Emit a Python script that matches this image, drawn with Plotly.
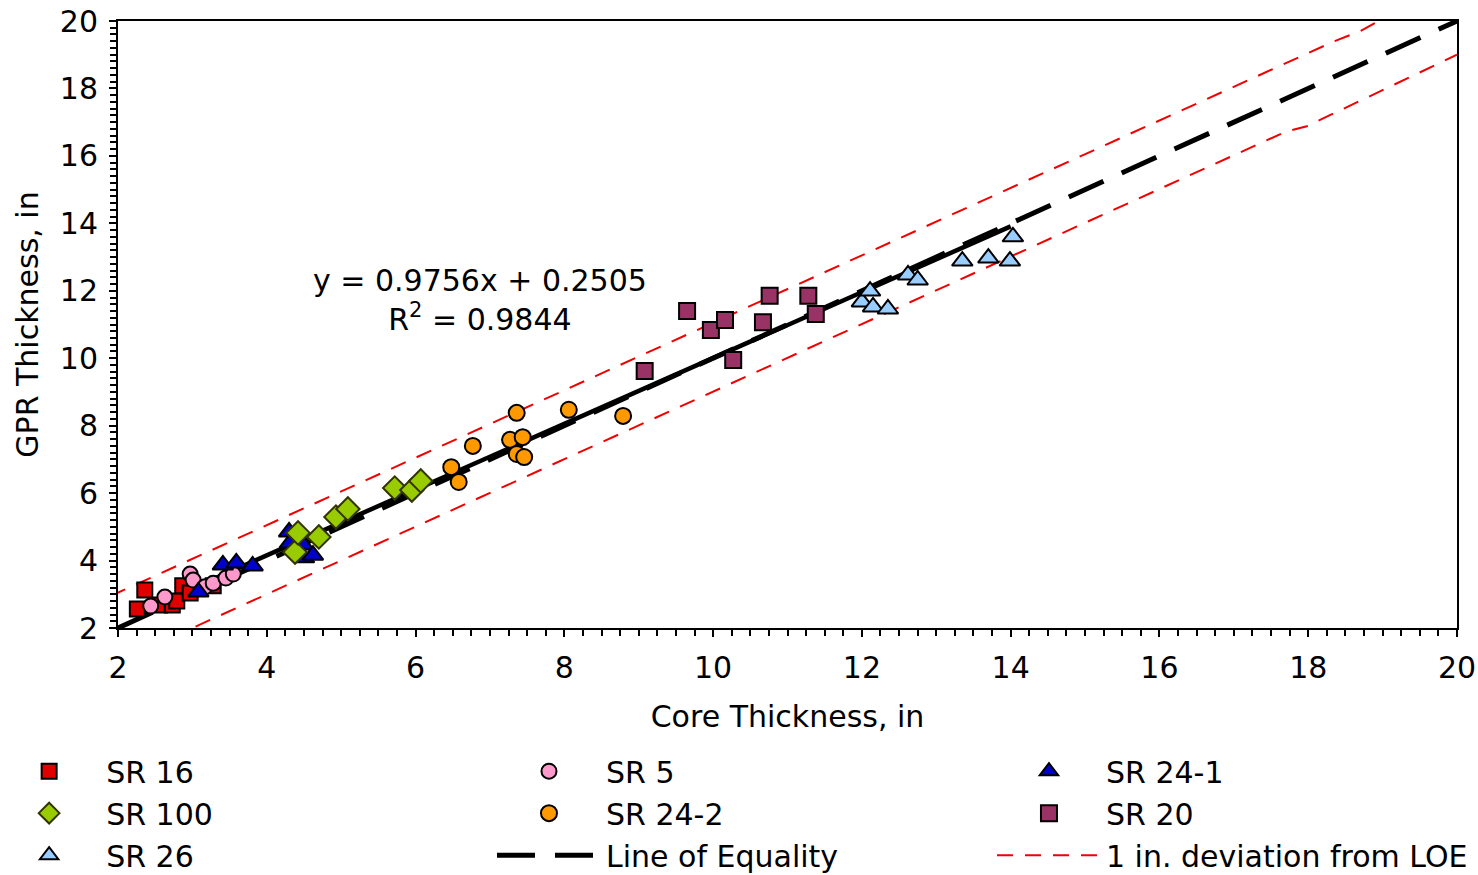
import plotly.graph_objects as go

# ---- data ----
sr16_x = [2.26, 2.36, 2.56, 2.73, 2.79, 2.87, 2.97, 3.28]
sr16_y = [2.56, 3.13, 2.68, 2.68, 2.80, 3.25, 3.04, 3.25]

sr5_x = [2.44, 2.63, 2.97, 3.01, 3.17, 3.28, 3.45, 3.55]
sr5_y = [2.65, 2.92, 3.60, 3.42, 3.22, 3.33, 3.48, 3.60]

sr241_x = [3.08, 3.41, 3.59, 3.81, 4.30, 4.31, 4.49, 4.50, 4.62]
sr241_y = [3.07, 3.87, 3.93, 3.84, 4.85, 4.52, 4.46, 4.08, 4.16]

sr100_x = [4.38, 4.42, 4.70, 4.93, 5.09, 5.72, 5.95, 6.07]
sr100_y = [4.25, 4.82, 4.70, 5.29, 5.53, 6.15, 6.09, 6.36]

sr242_x = [6.48, 6.58, 6.77, 7.27, 7.44, 7.36, 7.36, 7.46, 8.06, 8.79]
sr242_y = [6.77, 6.33, 7.40, 7.58, 7.66, 8.38, 7.16, 7.07, 8.47, 8.29]

sr20_x = [9.08, 9.65, 9.97, 10.16, 10.27, 10.67, 10.76, 11.28, 11.38]
sr20_y = [9.62, 11.40, 10.84, 11.13, 9.95, 11.07, 11.85, 11.85, 11.31]

sr26_x = [12.00, 12.11, 12.15, 12.35, 12.62, 12.75, 13.35, 13.70, 13.99, 14.03]
sr26_y = [11.67, 11.99, 11.52, 11.46, 12.47, 12.32, 12.88, 12.97, 12.88, 13.60]

loe_x = [2, 20]
loe_y = [2, 20]

dev_up_x = [1.9, 18.35, 18.7, 19.2]
dev_up_y = [2.95, 19.40, 19.70, 20.3]
dev_lo_x = [2.7, 17.7, 17.98, 20.0]
dev_lo_y = [1.7, 16.72, 16.88, 19.0]

trend_slope = 0.9756
trend_icpt = 0.2505
trend_x = [2.2, 14.0]
trend_y = [trend_slope * v + trend_icpt for v in trend_x]

x_ticks = [2, 4, 6, 8, 10, 12, 14, 16, 18, 20]
y_ticks = [2, 4, 6, 8, 10, 12, 14, 16, 18, 20]

FONT = "DejaVu Sans"
FS = 30

fig = go.Figure()

# lines first (drawn underneath markers)
fig.add_trace(go.Scatter(
    x=loe_x, y=loe_y, mode="lines", name="Line of Equality",
    line=dict(color="#000000", width=5, dash="38px,20px"),
    legend="legend2", legendrank=3,
))
fig.add_trace(go.Scatter(
    x=dev_up_x, y=dev_up_y, mode="lines", name="1 in. deviation from LOE",
    line=dict(color="#F00000", width=2, dash="16px,12px"),
    legendgroup="dev", cliponaxis=False, legend="legend3", legendrank=3,
))
fig.add_trace(go.Scatter(
    x=dev_lo_x, y=dev_lo_y, mode="lines", name="1 in. deviation from LOE",
    line=dict(color="#F00000", width=2, dash="16px,12px"),
    legendgroup="dev", showlegend=False, cliponaxis=False, legend="legend3",
))
fig.add_trace(go.Scatter(
    x=trend_x, y=trend_y, mode="lines", name="Linear trend",
    line=dict(color="#000000", width=4.5), showlegend=False,
))

def add_pts(name, xs, ys, symbol, fill, line_col, size, leg, rank):
    fig.add_trace(go.Scatter(
        x=xs, y=ys, mode="markers", name=name,
        marker=dict(symbol=symbol, color=fill, size=size,
                    line=dict(color=line_col, width=2)),
        cliponaxis=False, legend=leg, legendrank=rank,
    ))

add_pts("SR 16", sr16_x, sr16_y, "square", "#E00000", "#000000", 15, "legend", 1)
add_pts("SR 5", sr5_x, sr5_y, "circle", "#FF99CC", "#000000", 15, "legend2", 1)
add_pts("SR 24-1", sr241_x, sr241_y, "triangle-up", "#0000CC", "#000000", 18, "legend3", 1)
add_pts("SR 100", sr100_x, sr100_y, "diamond", "#99CC00", "#333300", 18, "legend", 2)
add_pts("SR 24-2", sr242_x, sr242_y, "circle", "#FF9900", "#000000", 16, "legend2", 2)
add_pts("SR 20", sr20_x, sr20_y, "square", "#993366", "#000000", 16, "legend3", 2)
add_pts("SR 26", sr26_x, sr26_y, "triangle-up", "#99CCFF", "#000000", 18, "legend", 3)

fig.add_annotation(
    x=6.87, y=11.73, xref="x", yref="y",
    text="y = 0.9756x + 0.2505<br>R<sup>2</sup> = 0.9844",
    showarrow=False, align="center",
    font=dict(family=FONT, size=FS, color="#000000"),
)

axis_common = dict(
    showgrid=False, zeroline=False,
    showline=True, linecolor="#000000", linewidth=2, mirror=True,
    ticks="outside", ticklen=7, tickwidth=2, tickcolor="#000000",
    tickfont=dict(family=FONT, size=FS, color="#000000"),
    ticklabelstandoff=5,
)

fig.update_xaxes(
    range=[2, 20], tickvals=x_ticks, ticktext=[str(v) for v in x_ticks],
    title=dict(text="Core Thickness, in", font=dict(family=FONT, size=FS, color="#000000"), standoff=22),
    minor=dict(dtick=0.25, ticks="outside", ticklen=6, tickwidth=1.5, tickcolor="#000000"),
    **axis_common,
)
fig.update_yaxes(
    range=[2, 20], tickvals=y_ticks, ticktext=[str(v) for v in y_ticks],
    title=dict(text="GPR Thickness, in", font=dict(family=FONT, size=FS, color="#000000"), standoff=12),
    minor=dict(dtick=0.2, ticks="outside", ticklen=6, tickwidth=1.5, tickcolor="#000000"),
    **axis_common,
)

leg_common = dict(
    orientation="v", y=-0.193, xanchor="left", yanchor="top",
    itemwidth=104, traceorder="normal",
    font=dict(family=FONT, size=FS, color="#000000"),
    bgcolor="rgba(0,0,0,0)",
)

fig.update_layout(
    width=1478, height=875,
    margin=dict(l=118, r=21, t=21, b=247, autoexpand=False),
    paper_bgcolor="#FFFFFF", plot_bgcolor="#FFFFFF",
    font=dict(family=FONT, size=FS, color="#000000"),
    legend=dict(x=-0.094, **leg_common),
    legend2=dict(x=0.2793, **leg_common),
    legend3=dict(x=0.6527, **leg_common),
    showlegend=True,
)

fig.write_html("out.html")
